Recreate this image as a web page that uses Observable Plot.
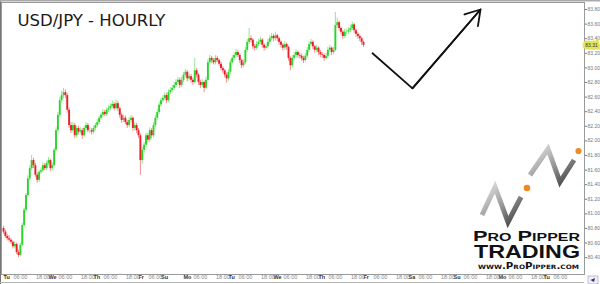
<!DOCTYPE html>
<html>
<head>
<meta charset="utf-8">
<script src="https://cdn.jsdelivr.net/npm/d3@7"></script>
<script src="https://cdn.jsdelivr.net/npm/@observablehq/plot@0.6"></script>
<style>
  html, body { margin: 0; padding: 0; background: #fff; }
  #wrap { position: relative; width: 600px; height: 284px; overflow: hidden; }
  #wrap svg.overlay { position: absolute; left: 0; top: 0; pointer-events: none; }
</style>
</head>
<body>
<div id="wrap"></div>
<script>
// Hourly USD/JPY candles, bar index 0 = Tu 06:00 (weekend bars compressed)
const open = [80.80,80.75,80.69,80.66,80.64,80.61,80.55,80.58,80.47,80.43,
80.57,80.84,81.05,81.25,81.48,81.62,81.73,81.66,81.53,81.46,
81.57,81.59,81.66,81.62,81.69,81.73,81.62,81.66,81.87,82.14,
82.35,82.55,82.62,82.66,82.62,82.42,82.21,82.14,82.21,82.07,
82.17,82.12,82.14,82.07,82.17,82.21,82.14,82.14,82.12,82.17,
82.21,82.25,82.31,82.35,82.39,82.36,82.42,82.44,82.47,82.50,
82.44,82.51,82.44,82.35,82.28,82.31,82.25,82.21,82.28,82.31,
82.17,82.21,82.14,82.07,81.73,81.87,81.94,82.07,82.01,82.14,
82.07,82.21,82.31,82.39,82.49,82.55,82.58,82.62,82.55,82.66,
82.69,82.72,82.76,82.80,82.83,82.76,82.83,82.90,82.94,82.85,
82.88,82.83,82.80,82.96,82.90,82.80,82.76,82.80,82.72,82.83,
83.07,83.13,83.10,83.07,83.13,83.10,83.05,82.99,82.96,82.90,
82.85,82.94,83.07,83.13,83.17,83.21,83.17,83.10,83.03,83.07,
83.24,83.35,83.40,83.38,83.29,83.27,83.32,83.35,83.38,83.31,
83.27,83.29,83.35,83.40,83.43,83.40,83.44,83.40,83.35,83.31,
83.27,83.32,83.28,83.13,83.03,83.13,83.17,83.21,83.17,83.16,
83.13,83.10,83.16,83.24,83.32,83.35,83.29,83.24,83.27,83.21,
83.18,83.17,83.13,83.16,83.24,83.27,83.21,83.24,83.58,83.62,
83.54,83.49,83.43,83.49,83.49,83.51,83.54,83.59,83.51,83.46,
83.43,83.40,83.35];
const close = [80.75,80.69,80.66,80.64,80.61,80.55,80.58,80.47,80.43,80.57,
80.84,81.05,81.25,81.48,81.62,81.73,81.66,81.53,81.46,81.57,
81.59,81.66,81.62,81.69,81.73,81.62,81.66,81.87,82.14,82.35,
82.55,82.62,82.66,82.62,82.42,82.21,82.14,82.21,82.07,82.17,
82.12,82.14,82.07,82.17,82.21,82.14,82.14,82.12,82.17,82.21,
82.25,82.31,82.35,82.39,82.36,82.42,82.44,82.47,82.50,82.44,
82.51,82.44,82.35,82.28,82.31,82.25,82.21,82.28,82.31,82.17,
82.21,82.14,82.07,81.73,81.87,81.94,82.07,82.01,82.14,82.07,
82.21,82.31,82.39,82.49,82.55,82.58,82.62,82.55,82.66,82.69,
82.72,82.76,82.80,82.83,82.76,82.83,82.90,82.94,82.85,82.88,
82.83,82.80,82.96,82.90,82.80,82.76,82.80,82.72,82.83,83.07,
83.13,83.10,83.07,83.13,83.10,83.05,82.99,82.96,82.90,82.85,
82.94,83.07,83.13,83.17,83.21,83.17,83.10,83.03,83.07,83.24,
83.35,83.40,83.38,83.29,83.27,83.32,83.35,83.38,83.31,83.27,
83.29,83.35,83.40,83.43,83.40,83.44,83.40,83.35,83.31,83.27,
83.32,83.28,83.13,83.03,83.13,83.17,83.21,83.17,83.16,83.13,
83.10,83.16,83.24,83.32,83.35,83.29,83.24,83.27,83.21,83.18,
83.17,83.13,83.16,83.24,83.27,83.21,83.24,83.58,83.62,83.54,
83.49,83.43,83.49,83.49,83.51,83.54,83.59,83.51,83.46,83.43,
83.40,83.35,83.31];
const high = [80.83,80.78,80.72,80.70,80.66,80.63,80.62,80.60,80.50,80.60,
80.87,81.08,81.28,81.52,81.66,81.80,81.76,81.69,81.56,81.60,
81.63,81.70,81.69,81.72,81.77,81.75,81.70,81.90,82.18,82.39,
82.60,82.68,82.72,82.70,82.65,82.45,82.25,82.25,82.24,82.20,
82.20,82.18,82.17,82.20,82.25,82.24,82.18,82.17,82.20,82.24,
82.29,82.34,82.38,82.43,82.42,82.45,82.48,82.51,82.55,82.53,
82.56,82.54,82.46,82.38,82.35,82.34,82.28,82.32,82.35,82.33,
82.25,82.24,82.17,82.10,81.91,81.98,82.11,82.10,82.18,82.17,
82.25,82.35,82.43,82.53,82.59,82.62,82.66,82.65,82.70,82.73,
82.76,82.80,82.84,82.87,82.86,82.87,82.94,82.98,82.96,82.92,
82.91,82.86,83.13,82.99,82.92,82.83,82.84,82.82,82.87,83.11,
83.17,83.16,83.13,83.17,83.16,83.12,83.08,83.02,82.98,82.93,
82.98,83.11,83.17,83.21,83.25,83.24,83.19,83.12,83.11,83.28,
83.39,83.54,83.44,83.40,83.32,83.36,83.39,83.42,83.40,83.33,
83.33,83.39,83.44,83.47,83.46,83.49,83.46,83.42,83.37,83.33,
83.36,83.34,83.30,83.15,83.17,83.21,83.25,83.23,83.20,83.19,
83.16,83.20,83.28,83.36,83.39,83.37,83.31,83.31,83.29,83.24,
83.21,83.19,83.20,83.28,83.31,83.29,83.28,83.76,83.68,83.64,
83.56,83.51,83.53,83.53,83.55,83.58,83.63,83.61,83.53,83.48,
83.45,83.42,83.37];
const low = [80.72,80.66,80.63,80.61,80.58,80.52,80.52,80.44,80.40,80.41,
80.55,80.82,81.02,81.22,81.45,81.59,81.62,81.50,81.42,81.43,
81.54,81.56,81.59,81.59,81.66,81.58,81.59,81.64,81.85,82.11,
82.32,82.52,82.58,82.58,82.38,82.17,82.10,82.11,82.03,82.04,
82.08,82.09,82.02,82.05,82.14,82.11,82.10,82.08,82.09,82.14,
82.18,82.22,82.28,82.32,82.33,82.33,82.39,82.41,82.44,82.41,
82.42,82.40,82.31,82.24,82.25,82.22,82.17,82.18,82.25,82.13,
82.14,82.10,82.03,81.53,81.68,81.83,81.91,81.97,81.98,82.03,
82.04,82.18,82.28,82.36,82.46,82.52,82.55,82.51,82.52,82.63,
82.66,82.69,82.73,82.77,82.72,82.73,82.80,82.87,82.81,82.82,
82.79,82.76,82.78,82.86,82.76,82.72,82.73,82.66,82.70,82.81,
83.04,83.06,83.04,83.04,83.07,83.02,82.96,82.92,82.86,82.79,
82.82,82.91,83.04,83.10,83.14,83.14,83.06,82.99,83.00,83.04,
83.21,83.32,83.34,83.25,83.23,83.24,83.29,83.32,83.27,83.23,
83.24,83.26,83.32,83.37,83.36,83.37,83.36,83.31,83.27,83.23,
83.24,83.24,83.09,82.96,83.00,83.10,83.14,83.13,83.12,83.09,
83.06,83.07,83.13,83.21,83.29,83.25,83.20,83.21,83.17,83.14,
83.13,83.09,83.10,83.13,83.21,83.17,83.18,83.22,83.54,83.50,
83.45,83.39,83.40,83.45,83.46,83.48,83.51,83.47,83.42,83.39,
83.36,83.31,83.28];

// Price axis ticks
const yTicks = [80.4,80.6,80.8,81.0,81.2,81.4,81.6,81.8,82.0,82.2,82.4,82.6,82.8,83.0,83.2,83.4,83.6,83.8];

// Time axis labels (bar index, day name, time)
const xTickBars = [0,12,24,36,48,60,72,84,96,108,120,132,144,156,168,180,192,204,216,228,240,252,264,276,288];
const xTickDays = ["Tu","","We","","Th","","Fr","Su","Mo","","Tu","","We","","Th","","Fr","","Sa","","Su","","Mo","","Tu"];
const xTickTimes = ["06:00","18:00","06:00","18:00","06:00","18:00","06:00","","06:00","18:00","06:00","18:00","06:00","18:00","06:00","18:00","06:00","18:00","06:00","18:00","06:00","18:00","06:00","18:00","06:00"];

// Forecast arrow drawn on the chart (bar index, price)
const arrowBar = [196.8, 218.1, 254.4];
const arrowPrice = [83.20, 82.72, 83.80];

const title = "USD/JPY - HOURLY";

const candles = close.map((c, i) => ({i, open: open[i], high: high[i], low: low[i], close: c}));
const bull = candles.filter(d => d.close >= d.open);
const bear = candles.filter(d => d.close < d.open);
const arrowPts = arrowBar.map((b, k) => ({bar: b, price: arrowPrice[k]}));
const ticks = xTickBars.map((b, k) => ({bar: b, day: xTickDays[k], time: xTickTimes[k]}));
const last = candles[candles.length - 1];

const GREEN = "#2bd42b", GREEN_W = "#86e486", RED = "#ec1e26", RED_W = "#f38085";

const chart = Plot.plot({
  width: 600,
  height: 284,
  marginTop: 2,
  marginBottom: 10,
  marginLeft: 1,
  marginRight: 16,
  style: {background: "white", fontFamily: "'Liberation Sans', sans-serif"},
  x: {domain: [-1.07, 309.87], axis: null},
  y: {domain: [80.169, 83.896]},
  marks: [
    Plot.frame({stroke: "#9a9a9a"}),
    Plot.ruleX(bull, {x: "i", y1: "low", y2: "high", stroke: GREEN_W, strokeWidth: 0.9}),
    Plot.ruleX(bear, {x: "i", y1: "low", y2: "high", stroke: RED_W, strokeWidth: 0.9}),
    Plot.ruleX(bull, {x: "i", y1: "open", y2: "close", stroke: GREEN, strokeWidth: 1.9}),
    Plot.ruleX(bear, {x: "i", y1: "open", y2: "close", stroke: RED, strokeWidth: 1.9}),
    Plot.line(arrowPts, {x: "bar", y: "price", stroke: "#111", strokeWidth: 1.8, strokeLinejoin: "miter"}),
    Plot.arrow([arrowPts[1]], {x1: "bar", y1: "price", x2: () => arrowPts[2].bar, y2: () => arrowPts[2].price,
      stroke: "#111", strokeWidth: 1.8, headLength: 14, headAngle: 64}),
    Plot.axisY(yTicks, {anchor: "right", tickSize: 2, tickPadding: 1, fontSize: 5, color: "#777",
      tickFormat: d => d.toFixed(2)}),
    Plot.text([last], {y: "close", frameAnchor: "right", dx: 7, text: d => d.close.toFixed(2),
      fontSize: 5, fill: "#333", stroke: "#e3e35a", strokeWidth: 5, strokeLinejoin: "miter", paintOrder: "stroke", textAnchor: "middle"}),
    Plot.text(ticks, {x: "bar", frameAnchor: "bottom", dy: 4.5, text: "day", textAnchor: "start",
      fontSize: 5.5, fontWeight: "bold", fill: "#333"}),
    Plot.text(ticks, {x: "bar", frameAnchor: "bottom", dy: 4.5, dx: 10, text: "time", textAnchor: "start",
      fontSize: 5.5, fill: "#888"}),
    Plot.text([title], {frameAnchor: "top-left", dx: 16, dy: 12, lineAnchor: "top", textAnchor: "start",
      fontSize: 16.5, fontFamily: "'DejaVu Sans', sans-serif", fill: "#1a1a1a"})
  ]
});

const wrap = document.getElementById("wrap");
wrap.appendChild(chart);

// Pro Pipper Trading logo watermark and window decorations
const NS = "http://www.w3.org/2000/svg";
const ov = document.createElementNS(NS, "svg");
ov.setAttribute("class", "overlay");
ov.setAttribute("width", 600);
ov.setAttribute("height", 284);
ov.innerHTML = `
<defs>
  <linearGradient id="rib" x1="0" y1="0" x2="1" y2="1">
    <stop offset="0" stop-color="#e6e6e6"/>
    <stop offset="0.5" stop-color="#9a9a9a"/>
    <stop offset="1" stop-color="#3c3c3c"/>
  </linearGradient>
</defs>
<line x1="0.5" y1="0" x2="0.5" y2="284" stroke="#777" stroke-width="1"/>
<line x1="0" y1="0.8" x2="600" y2="0.8" stroke="#aaa" stroke-width="1.6"/>
<line x1="0" y1="282.5" x2="584" y2="282.5" stroke="#b5b5b5" stroke-width="1"/>
<rect x="588" y="276" width="10" height="8" fill="#eef" stroke="#99a" stroke-width="0.6"/>
<path d="M590.5 280 L595 278 L594 282 Z" fill="#335"/>
<polyline points="482,215 495,187 508,222 521,197" fill="none" stroke="url(#rib)" stroke-width="5" stroke-linejoin="miter"/>
<polyline points="530,175 548,149 560,182 574,160" fill="none" stroke="url(#rib)" stroke-width="5" stroke-linejoin="miter"/>
<circle cx="527" cy="188" r="3.3" fill="#f08a24"/>
<circle cx="578.5" cy="151" r="3.1" fill="#f08a24"/>
<text x="473" y="241" textLength="107" lengthAdjust="spacingAndGlyphs" font-family="Liberation Sans" font-weight="bold" font-size="15" font-variant="small-caps" fill="#111">Pro Pipper</text>
<text x="474" y="258" textLength="106" lengthAdjust="spacingAndGlyphs" font-family="Liberation Sans" font-weight="bold" font-size="18" fill="#111">TRADING</text>
<text x="478" y="269" textLength="101" lengthAdjust="spacingAndGlyphs" font-family="DejaVu Sans" font-weight="bold" font-size="8.5" font-variant="small-caps" fill="#111">www.ProPipper.com</text>
`;
wrap.appendChild(ov);
</script>
</body>
</html>
